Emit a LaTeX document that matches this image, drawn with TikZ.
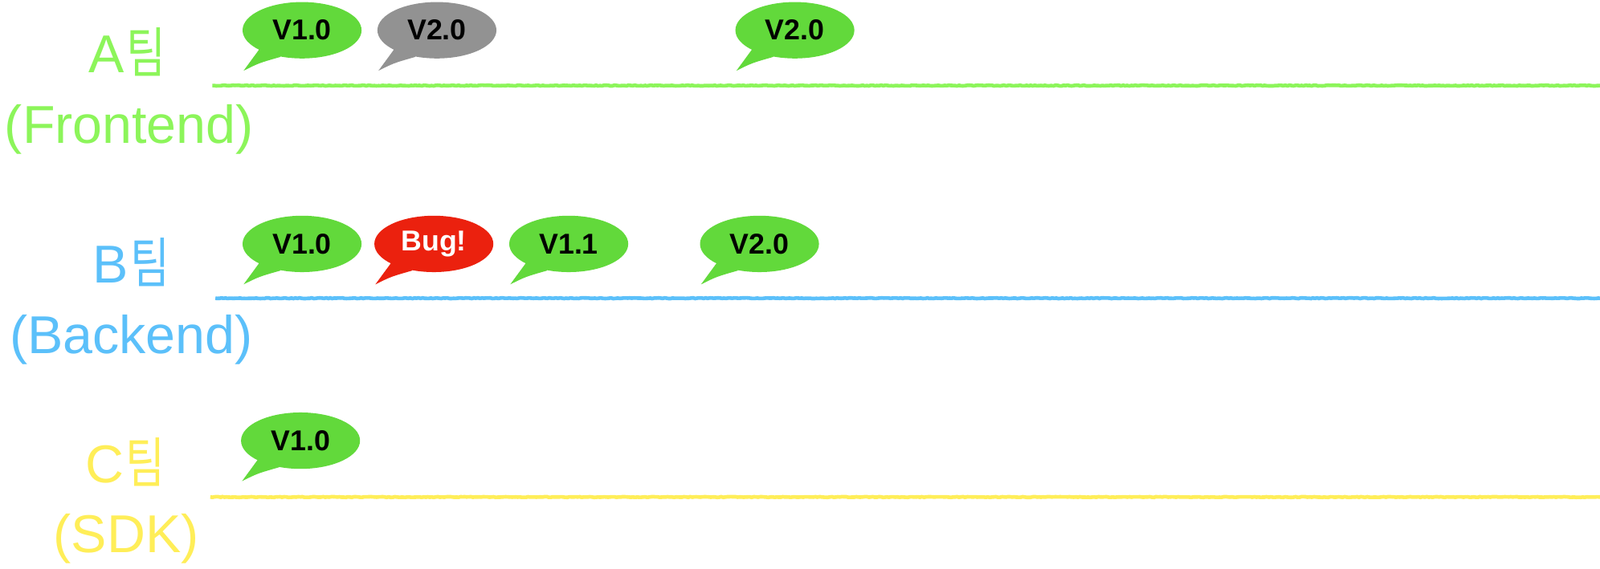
\documentclass[tikz,border=0pt]{standalone}
\usepackage{fontspec}
\usepackage{graphicx}
\setmainfont{Liberation Sans}
\newfontfamily\krfont{Noto Sans CJK KR}
\usetikzlibrary{shapes.geometric,decorations.pathmorphing}
\definecolor{bubgreen}{HTML}{62D93B}
\definecolor{bubgray}{HTML}{929292}
\definecolor{bubred}{HTML}{EB210E}
\definecolor{agreen}{HTML}{8CF55A}
\definecolor{bblue}{HTML}{5BC0FA}
\definecolor{cyellow}{HTML}{FFEE58}
\newcommand\tm{{\krfont\scalebox{0.8}[1.02]{팀}}}
\newcommand\mybubble[6]{%
  \node[bubblebox, fill=#4, text=#5] (#1) at (#2,#3) {#6};
  \begin{scope}[shift={(#1.center)}]
    \fill[#4] (-42,19) -- (-57,39.5) .. controls (-42,32) .. (-21,26) -- (-28,10) -- cycle;
  \end{scope}}
\begin{document}
\begin{tikzpicture}[x=1pt,y=-1pt,
  bubblebox/.style={ellipse, minimum width=116pt, minimum height=55pt, inner sep=0pt,
    font=\fontsize{28}{30}\selectfont\bfseries},
  teamlbl/.style={anchor=base, inner sep=0pt, font=\fontsize{52}{60}\selectfont},
  timeline/.style={line width=3.6pt, decorate,
    decoration={random steps, segment length=2pt, amplitude=0.35pt}}]
\useasboundingbox[fill=white] (0,0) rectangle (1560,555);
% labels
\node[teamlbl, text=agreen] (alab) at (124,71) {A\hspace{2pt}\tm};
\node[teamlbl, text=agreen] (asub) at (126,140) {(Frontend)};
\node[teamlbl, text=bblue] (blab) at (128,276) {B\hspace{2pt}\tm};
\node[teamlbl, text=bblue] (bsub) at (128,345) {(Backend)};
\node[teamlbl, text=cyellow] (clab) at (122,471) {C\hspace{2pt}\tm};
\node[teamlbl, text=cyellow] (csub) at (123,539) {(SDK)};
% timelines
\coordinate (a0) at (207,83.5); \coordinate (a1) at (1560,83.5);
\coordinate (b0) at (210,291); \coordinate (b1) at (1560,291);
\coordinate (c0) at (205,485); \coordinate (c1) at (1560,485);
\draw[timeline, agreen] (a0) -- (a1);
\draw[timeline, bblue] (b0) -- (b1);
\draw[timeline, cyellow] (c0) -- (c1);
% bubbles row A
\mybubble{a1b}{294.5}{29.5}{bubgreen}{black}{V1.0}
\mybubble{a2b}{426}{29.5}{bubgray}{black}{V2.0}
\mybubble{a3b}{775}{29.5}{bubgreen}{black}{V2.0}
% bubbles row B
\mybubble{b1b}{294.5}{238}{bubgreen}{black}{V1.0}
\mybubble{b2b}{423}{238}{bubred}{white}{Bug!}
\mybubble{b3b}{554.5}{238}{bubgreen}{black}{V1.1}
\mybubble{b4b}{740.5}{238}{bubgreen}{black}{V2.0}
% bubbles row C
\mybubble{c1b}{293}{430}{bubgreen}{black}{V1.0}
\end{tikzpicture}
\end{document}
